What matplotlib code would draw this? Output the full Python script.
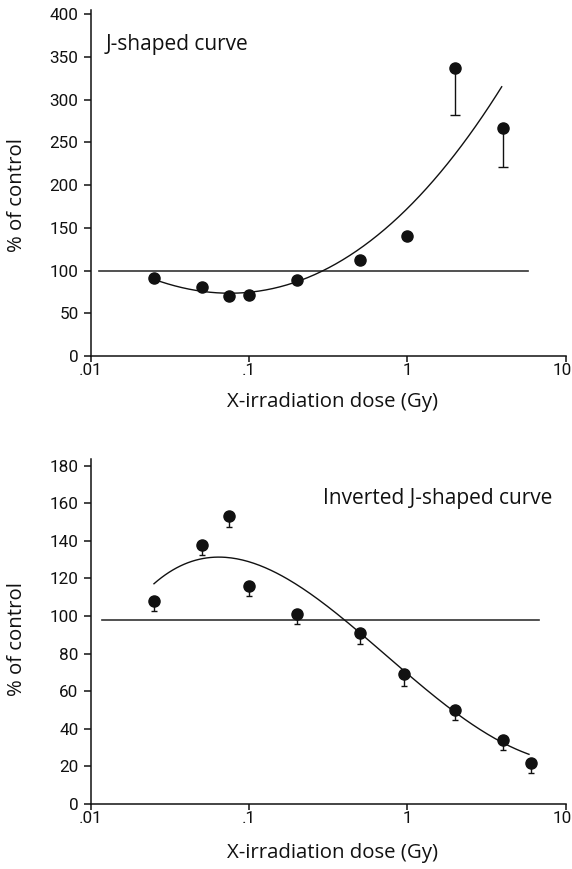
import numpy as np
import matplotlib
matplotlib.use('Agg')
import matplotlib.pyplot as plt
from matplotlib.ticker import FixedLocator, FixedFormatter, NullLocator
from matplotlib.transforms import ScaledTranslation

# top panel: J-shaped
j_dose = [0.025, 0.05, 0.075, 0.1, 0.2, 0.5, 1.0, 2.0, 4.0]
j_val = [91, 81, 70, 72, 89, 112, 141, 337, 267]
j_err = [0, 0, 0, 0, 0, 0, 0, 55, 46]
# points
j_curve_x = [0.025, 0.04, 0.08, 0.15, 0.275, 0.5, 1.0, 2.0, 3.94]
j_curve_y = [91, 78, 72, 79, 100, 128, 172, 233, 317]
j_ref_x = [0.0113, 5.8]
j_ref_y = 100

# bottom panel: inverted J-shaped
i_dose = [0.025, 0.05, 0.075, 0.1, 0.2, 0.5, 0.95, 2.0, 4.0, 6.0]
i_val = [108, 138, 153, 116, 101, 91, 69, 50, 34, 22]
i_err = [5.5, 5.5, 5.5, 5.5, 5.5, 6, 6, 5.5, 5.5, 5.5]
i_curve_x = [0.025, 0.04, 0.0625, 0.1, 0.21, 0.386, 0.5, 0.96, 1.95, 3.9, 5.86]
i_curve_y = [117, 128, 132, 129, 114, 98, 93.5, 70.4, 49, 33, 26.6]
i_ref_x = [0.0118, 6.8]
i_ref_y = 98

x_ticks = [0.01, 0.1, 1, 10]
x_labels = ['.01', '.1', '1', '10']

tick_font = ['Roboto', 'DejaVu Sans']
label_font = ['Open Sans', 'DejaVu Sans']
ink = '#111111'

fig = plt.figure(figsize=(5.72, 8.69), dpi=100)
ax1 = fig.add_axes([0.1591, 0.5903, 0.8299, 0.3982])
ax2 = fig.add_axes([0.1591, 0.0748, 0.8299, 0.3967])


def trend(ax, xs, ys, deg):
    u = np.log10(xs)
    coef = np.polyfit(u, ys, deg)
    uu = np.linspace(u[0], u[-1], 200)
    ax.plot(10 ** uu, np.polyval(coef, uu), color=ink, lw=1.0, zorder=2)


def style(ax, yticks, ylim, xlab_y, ylab_y):
    ax.set_xscale('log')
    ax.set_xlim(0.01, 10)
    ax.set_ylim(*ylim)
    ax.xaxis.set_major_locator(FixedLocator(x_ticks))
    ax.xaxis.set_major_formatter(FixedFormatter(x_labels))
    ax.xaxis.set_minor_locator(NullLocator())
    ax.set_yticks(yticks)
    for s in ['top', 'right']:
        ax.spines[s].set_visible(False)
    for s in ['left', 'bottom']:
        ax.spines[s].set_linewidth(1.1)
        ax.spines[s].set_color(ink)
    ax.tick_params(axis='x', direction='out', length=4, width=1.1, color=ink, pad=1)
    ax.tick_params(axis='y', direction='out', length=5, width=1.1, color=ink, pad=4)
    for lab in ax.get_xticklabels() + ax.get_yticklabels():
        lab.set_family(tick_font)
        lab.set_fontsize(12.3)
        lab.set_color(ink)
    # nudge "10" left so it stays inside the figure
    last = ax.get_xticklabels()[-1]
    last.set_transform(last.get_transform() + ScaledTranslation(-2.5 / 72, 0, fig.dpi_scale_trans))
    ax.set_xlabel('X-irradiation dose (Gy)', family=label_font, fontsize=14.7, color=ink)
    ax.set_ylabel('% of control', family=label_font, fontsize=14.7, color=ink)
    ax.xaxis.set_label_coords(0.509, xlab_y)
    ax.yaxis.set_label_coords(-0.135, ylab_y)


# top
ax1.plot(j_ref_x, [j_ref_y, j_ref_y], color='#333333', lw=1.2, zorder=1)
trend(ax1, j_curve_x, j_curve_y, 3)
ax1.errorbar(j_dose, j_val, yerr=[j_err, [0] * len(j_err)], fmt='o', color=ink,
             ms=8, ecolor=ink, elinewidth=1.0, capsize=3.6, capthick=1.0, zorder=3)
style(ax1, range(0, 401, 50), (0, 405), -0.103, 0.464)
ax1.text(0.0123, 365, 'J-shaped curve', family=label_font, fontsize=15,
         color=ink, va='center')

# bottom
ax2.plot(i_ref_x, [i_ref_y, i_ref_y], color='#333333', lw=1.2, zorder=1)
trend(ax2, i_curve_x, i_curve_y, 4)
ax2.errorbar(i_dose, i_val, yerr=[i_err, [0] * len(i_err)], fmt='o', color=ink,
             ms=8, ecolor=ink, elinewidth=1.0, capsize=2.5, capthick=1.0, zorder=3)
style(ax2, range(0, 181, 20), (0, 183.4), -0.113, 0.479)
ax2.text(0.291, 162.3, 'Inverted J-shaped curve', family=label_font, fontsize=15,
         color=ink, va='center')

fig.savefig('out.png', dpi=100)
